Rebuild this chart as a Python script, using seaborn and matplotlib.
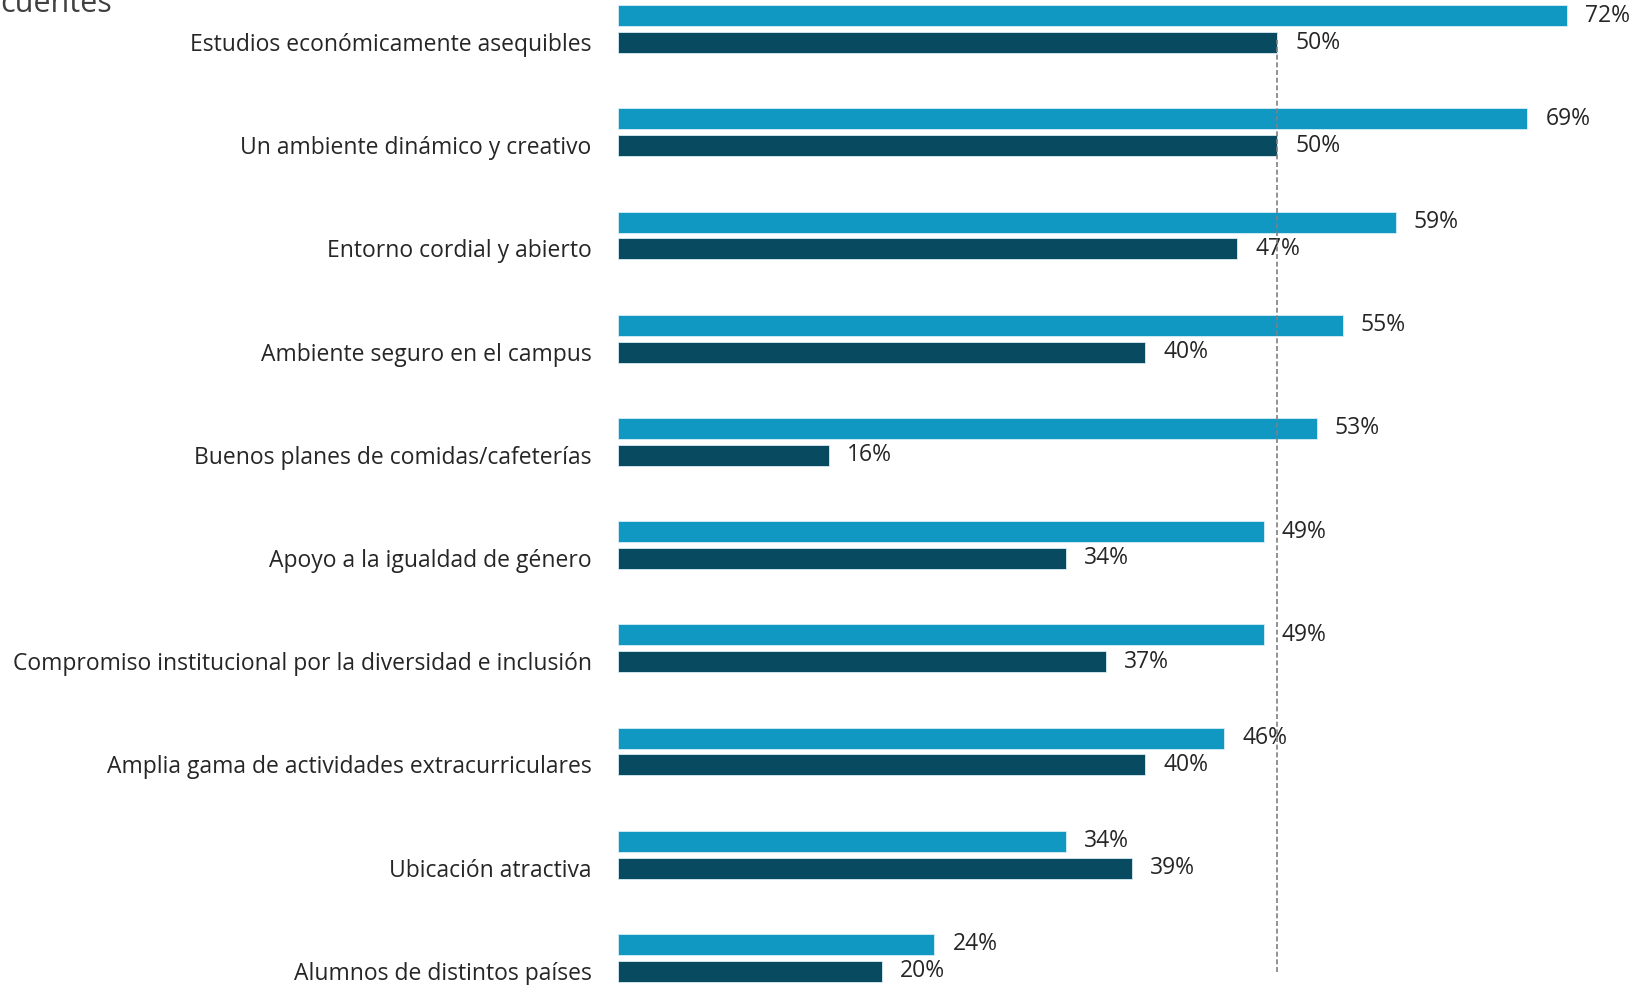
import pandas as pd
import matplotlib.pyplot as plt
import matplotlib.transforms as mtransforms
import seaborn as sns

categorias = [
    "Estudios económicamente asequibles",
    "Un ambiente dinámico y creativo",
    "Entorno cordial y abierto",
    "Ambiente seguro en el campus",
    "Buenos planes de comidas/cafeterías",
    "Apoyo a la igualdad de género",
    "Compromiso institucional por la diversidad e inclusión",
    "Amplia gama de actividades extracurriculares",
    "Ubicación atractiva",
    "Alumnos de distintos países",
]
serie_a = [72, 69, 59, 55, 53, 49, 49, 46, 34, 24]
serie_b = [50, 50, 47, 40, 16, 34, 37, 40, 39, 20]
series = ["A", "B"]
promedio = 50

colors = ["#1097C2", "#084A5F"]

df = pd.DataFrame({
    "categoria": categorias * 2,
    "valor": serie_a + serie_b,
    "serie": [series[0]] * len(categorias) + [series[1]] * len(categorias),
})

sns.set_style("white")
plt.rcParams['font.family'] = ['Open Sans', 'DejaVu Sans']

fig = plt.figure(figsize=(16.34, 9.85), dpi=100)
ax = fig.add_axes([618 / 1634, 0, 1 - 618 / 1634, 1])

sns.barplot(data=df, y="categoria", x="valor", hue="serie", orient="h",
            palette=colors, saturation=1, width=0.52, gap=0.22, legend=False,
            ax=ax, edgecolor="#d8eef5", linewidth=0.6)

down = mtransforms.ScaledTranslation(0, -2 / 100, fig.dpi_scale_trans)
for cont in ax.containers:
    labs = ax.bar_label(cont, fmt="%d%%", padding=13, fontsize=16.5, color="#262626")
    for t in labs:
        t.set_transform(t.get_transform() + down)

ax.axvline(promedio, ymin=0.013, ymax=0.959, color="#808080", lw=1.2,
           ls=(0, (3, 1.6)), zorder=5)

ax.set_xlim(0, (1634 - 618) / 13.18)
ax.set_ylim(9.263, -0.282)
ax.set_xlabel("")
ax.set_ylabel("")
ax.set_xticks([])
ax.tick_params(axis="y", length=0, pad=19, labelsize=16.5, labelcolor="#262626")
# las etiquetas van alineadas con la barra oscura
shift = mtransforms.ScaledTranslation(0, -13 / 100, fig.dpi_scale_trans)
for lab in ax.get_yticklabels():
    lab.set_transform(lab.get_transform() + shift)
sns.despine(ax=ax, left=True, bottom=True)

fig.text(0, 1 - 12 / 985, "cuentes", fontsize=22, color="#404040",
         ha="left", va="baseline")

plt.savefig("out.png", dpi=100)
